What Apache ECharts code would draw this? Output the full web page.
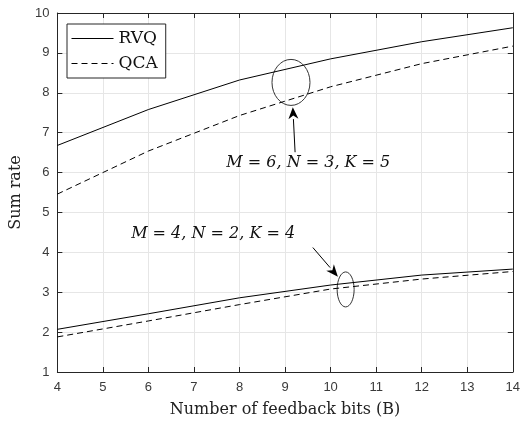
<!DOCTYPE html>
<html lang="en">
<head>
    <meta charset="UTF-8">
    <title>Sum rate vs feedback bits</title>
    <script src="https://cdn.jsdelivr.net/npm/echarts@6/dist/echarts.min.js"></script>
</head>
<body style="margin:0;background:#fff;">
<div id="main" style="width:523px;height:423px;"></div>
<script>
    // feedback bits (x) and sum rate values
    var bits = [4, 6, 8, 10, 12, 14];
    var rvqM6 = [6.68, 7.58, 8.32, 8.85, 9.28, 9.63];
    var qcaM6 = [5.46, 6.54, 7.43, 8.15, 8.73, 9.17];
    var rvqM4 = [2.07, 2.46, 2.86, 3.18, 3.43, 3.58];
    var qcaM4 = [1.88, 2.28, 2.69, 3.08, 3.33, 3.52];
    var xTicks = [4, 5, 6, 7, 8, 9, 10, 11, 12, 13, 14];
    var yTicks = [1, 2, 3, 4, 5, 6, 7, 8, 9, 10];

    function pairs(ys) {
        var out = [];
        for (var i = 0; i < bits.length; i++) {
            out.push([bits[i], ys[i]]);
        }
        return out;
    }

    var serif = 'DejaVu Serif';
    var axisCol = '#262626';
    var gridCol = '#e6e6e6';

    var myChart = echarts.init(document.getElementById('main'));

    function axisBase(show) {
        return {
            axisLine: { show: true, onZero: false, lineStyle: { color: axisCol, width: 1 } },
            axisTick: { show: true, inside: true, length: 5, lineStyle: { color: axisCol } },
            axisLabel: { show: show, color: '#3a3a3a', fontFamily: 'Liberation Sans', fontSize: 13 },
            splitLine: { show: show, lineStyle: { color: gridCol, width: 1 } }
        };
    }

    var xMain = Object.assign(axisBase(true), {
        type: 'value', min: xTicks[0], max: xTicks[xTicks.length - 1], interval: 1,
        position: 'bottom',
        name: 'Number of feedback bits (B)', nameLocation: 'middle', nameGap: 30,
        nameTextStyle: { fontFamily: serif, fontSize: 16, color: '#222' }
    });
    xMain.axisLabel.margin = 9;
    var xTop = Object.assign(axisBase(false), {
        type: 'value', min: xTicks[0], max: xTicks[xTicks.length - 1], interval: 1, position: 'top'
    });
    var yMain = Object.assign(axisBase(true), {
        type: 'value', min: yTicks[0], max: yTicks[yTicks.length - 1], interval: 1,
        position: 'left',
        name: 'Sum rate', nameLocation: 'middle', nameGap: 33,
        nameTextStyle: { fontFamily: serif, fontSize: 16, color: '#222' }
    });
    yMain.axisLabel.margin = 8;
    var yRight = Object.assign(axisBase(false), {
        type: 'value', min: yTicks[0], max: yTicks[yTicks.length - 1], interval: 1, position: 'right'
    });

    function lineSeries(name, ys, dash) {
        return {
            name: name, type: 'line', data: pairs(ys), symbol: 'none',
            xAxisIndex: 0, yAxisIndex: 0, silent: true, animation: false,
            lineStyle: { color: '#000', width: 1, type: dash ? [6, 4] : 'solid' },
            itemStyle: { color: '#000' }
        };
    }

    var option = {
        animation: false,
        grid: { left: 56, right: 9, top: 13, bottom: 48, containLabel: false },
        legend: {
            left: 67, top: 24, orient: 'vertical',
            data: ['RVQ', 'QCA'],
            itemWidth: 42, itemHeight: 10, itemGap: 8,
            itemStyle: { opacity: 0 },
            lineStyle: { width: 1 },
            backgroundColor: '#fff', borderColor: axisCol, borderWidth: 1,
            padding: [6, 8, 6, 4],
            textStyle: { fontFamily: serif, fontSize: 17, color: '#111' }
        },
        xAxis: [xMain, xTop],
        yAxis: [yMain, yRight],
        series: [
            lineSeries('RVQ', rvqM6, false),
            lineSeries('QCA', qcaM6, true),
            lineSeries('RVQ', rvqM4, false),
            lineSeries('QCA', qcaM4, true)
        ]
    };
    myChart.setOption(option);

    // annotations placed in data coordinates
    var notes = [
        { ellipse: [9.13, 8.26], rx: 19, ry: 23, tail: [9.22, 6.51], head: [9.17, 7.64],
          text: 'M = 6, N = 3, K = 5', at: [7.71, 6.24] },
        { ellipse: [10.33, 3.07], rx: 8.5, ry: 17.5, tail: [9.61, 4.12], head: [10.16, 3.39],
          text: 'M = 4, N = 2, K = 4', at: [5.62, 4.46] }
    ];

    function px(p) {
        return myChart.convertToPixel({ xAxisIndex: 0, yAxisIndex: 0 }, p);
    }

    var els = [];
    notes.forEach(function (n) {
        var c = px(n.ellipse);
        els.push({ type: 'ellipse', shape: { cx: c[0], cy: c[1], rx: n.rx, ry: n.ry },
            style: { fill: 'none', stroke: '#333', lineWidth: 1 } });
        var t = px(n.tail), h = px(n.head);
        var ang = Math.atan2(h[1] - t[1], h[0] - t[0]);
        var len = 12, wid = 5;
        var bx = h[0] - len * Math.cos(ang), by = h[1] - len * Math.sin(ang);
        els.push({ type: 'line', shape: { x1: t[0], y1: t[1], x2: bx, y2: by },
            style: { stroke: '#000', lineWidth: 1 } });
        els.push({ type: 'polygon', shape: { points: [
            [h[0], h[1]],
            [bx + wid * Math.sin(ang), by - wid * Math.cos(ang)],
            [h[0] - 0.7 * len * Math.cos(ang), h[1] - 0.7 * len * Math.sin(ang)],
            [bx - wid * Math.sin(ang), by + wid * Math.cos(ang)]
        ] }, style: { fill: '#000' } });
        var a = px(n.at);
        els.push({ type: 'text', x: a[0], y: a[1],
            style: { text: n.text, fontFamily: serif, fontStyle: 'italic', fontSize: 16,
                fill: '#111', textVerticalAlign: 'middle', verticalAlign: 'middle' } });
    });
    myChart.setOption({ graphic: { elements: els } });
</script>
</body>
</html>
